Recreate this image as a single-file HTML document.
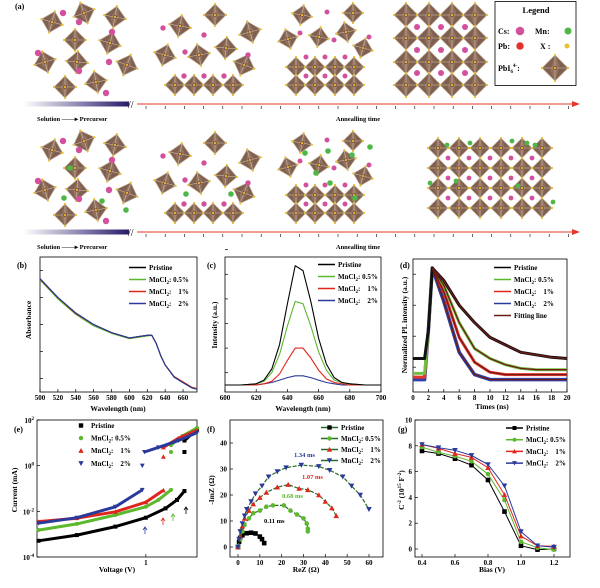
<!DOCTYPE html>
<html><head><meta charset="utf-8"><style>
html,body{margin:0;padding:0;background:#fff;}
svg{display:block;font-family:"Liberation Serif",serif;font-weight:bold;}
</style></head><body>
<svg id="fig" width="600" height="588" viewBox="0 0 600 588" xmlns="http://www.w3.org/2000/svg">
<defs>
<linearGradient id="grad" x1="0" x2="1" y1="0" y2="0"><stop offset="0" stop-color="#fff"/><stop offset="1" stop-color="#2a1a6a"/></linearGradient>
</defs>
</svg>
<script>
// ---------- DATA ----------
// (b) absorbance
const absWl=[500,520,540,560,580,600,610,620,625,630,635,640,650,660,670,676];
const absPristine=[0.84,0.70,0.585,0.50,0.44,0.40,0.41,0.42,0.42,0.36,0.27,0.20,0.11,0.07,0.03,0.02];
const abs05=[0.83,0.69,0.575,0.49,0.435,0.395,0.405,0.415,0.42,0.36,0.27,0.20,0.11,0.07,0.03,0.02];
const abs1=[0.835,0.70,0.58,0.50,0.44,0.40,0.41,0.42,0.42,0.36,0.27,0.20,0.115,0.075,0.035,0.025];
const abs2=[0.84,0.70,0.585,0.50,0.44,0.40,0.41,0.42,0.42,0.36,0.27,0.20,0.11,0.07,0.03,0.02];
// (c) PL
const plWl=[600,610,620,625,630,635,640,645,650,655,660,665,670,675,680,690,700];
const plPristine=[0,0,0.01,0.04,0.13,0.33,0.66,0.97,0.93,0.68,0.38,0.17,0.06,0.02,0.01,0,0];
const pl05=[0,0,0.01,0.03,0.1,0.25,0.48,0.68,0.66,0.48,0.27,0.12,0.04,0.02,0.01,0,0];
const pl1=[0,0,0,0.01,0.03,0.09,0.2,0.3,0.3,0.22,0.12,0.05,0.02,0.01,0,0,0];
const pl2=[0,0,0,0.01,0.02,0.04,0.06,0.075,0.075,0.06,0.04,0.02,0.01,0,0,0,0];
// (d) TRPL
const trT=[0,1.5,2,2.5,4,6,8,10,12,14,16,18,20];
const trPristine=[0.27,0.27,0.5,1,0.90,0.70,0.56,0.44,0.38,0.32,0.30,0.28,0.27];
const tr05=[0.15,0.15,0.5,1,0.86,0.56,0.35,0.27,0.22,0.19,0.18,0.18,0.18];
const tr1=[0.12,0.12,0.5,1,0.81,0.44,0.24,0.16,0.14,0.14,0.14,0.14,0.14];
const tr2=[0.10,0.10,0.5,1,0.73,0.32,0.14,0.10,0.10,0.10,0.10,0.10,0.10];
// (e) I-V (log10 values)
const ivPrV=[0.211,0.368,0.643,1,1.33,1.57,1.75];
const ivPrI=[-3.29,-3.04,-2.67,-2.28,-1.87,-1.50,-1.11];
const ivPrHiV=[1.75,1.75,2.1];
const ivPrHiI=[0.6,1.1,1.6];
const iv05V=[0.211,0.368,0.643,1,1.2,1.44];
const iv05I=[-2.82,-2.55,-2.16,-1.80,-1.5,-1.06];
const iv05HiV=[1.44,1.44,1.7,2.1];
const iv05HiI=[0.6,0.9,1.3,1.65];
const iv1V=[0.211,0.368,0.643,1,1.29];
const iv1I=[-2.45,-2.3,-2.02,-1.6,-1.08];
const iv1HiV=[1.29,1.29,1.6,2.1];
const iv1HiI=[0.39,0.8,1.2,1.55];
const iv2V=[0.211,0.368,0.643,0.95];
const iv2I=[-2.52,-2.28,-1.8,-1.06];
const iv2HiV=[0.95,0.98,1.2,1.6,2.1];
const iv2HiI=[0.0,0.6,0.8,1.1,1.45];
// (f) Nyquist
const nyPrX=[0,0.5,1,2,4,6,8,10,11,12];
const nyPrY=[0,2,3.5,4.5,5.3,5.5,5.2,4,3,1.5];
const ny05X=[0,1,2,3,5,7,10,13,16,21,24,27,30,31.5,32,32];
const ny05Y=[0,3,6,8.5,11,13,14,15.5,16,16,14,12.5,11,9,7,6];
const ny1X=[0,1,2,3,5,7,10,13,18,23,28,32,37,40,43,45];
const ny1Y=[0,4,8,11,14,16.5,19,21,23,24,22.5,22,20,17.5,15,12];
const ny2X=[0,0.5,1,2,3,4,6,8,11,14,18,22,29,37,42,48,52,56,60];
const ny2Y=[0,3,6,9,12,14.5,17.5,20.5,23.5,27,29,30.5,31.5,31,29.5,27,23.5,20,14.5];
// (g) Mott-Schottky
const msBias=[0.4,0.5,0.6,0.7,0.8,0.9,1.0,1.1,1.2];
const msPristine=[7.6,7.4,7.0,6.5,5.35,2.9,0.25,-0.05,0.0];
const ms05=[7.9,7.5,7.2,6.8,5.8,3.8,0.55,0.1,-0.05];
const ms1=[8.1,7.8,7.4,7.1,6.3,4.2,1.0,0.25,0.2];
const ms2=[8.1,7.85,7.65,7.25,6.55,4.9,1.35,0.25,0.15];
// ticks
const bTicks=[500,520,540,560,580,600,620,640,660];
const cTicks=[600,620,640,660,680,700];
const dTicks=[0,2,4,6,8,10,12,14,16,18,20];
const eYTicks=[2,0,-2,-4];
const fXTicks=[0,10,20,30,40,50,60];
const fYTicks=[0,10,20,30,40];
const gXTicks=[0.4,0.6,0.8,1.0,1.2];
const gYTicks=[0,2,4,6,8,10];

// ---------- HELPERS ----------
const NS="http://www.w3.org/2000/svg";
const svg=document.getElementById('fig');
function mk(tag,attrs,parent){const e=document.createElementNS(NS,tag);for(const k in attrs)e.setAttribute(k,attrs[k]);(parent||svg).appendChild(e);return e;}
function txt(x,y,s,size,anchor,parent){const t=mk('text',{x:x,y:y,'font-size':size||7,'text-anchor':anchor||'start',fill:'#000'},parent);t.textContent=s;return t;}
function mncl(x,y,pct,color,parent){const t=mk('text',{x:x,y:y,'font-size':7,fill:'#000'},parent);
 const a=mk('tspan',{},t);a.textContent='MnCl';const b=mk('tspan',{dy:2,'font-size':5},t);b.textContent='2';const c=mk('tspan',{dy:-2},t);c.textContent=': '+pct;return t;}
const COL=['#000','#5cb82c','#e0261c','#2a3a9a'];

function frame(x0,y0,x1,y1,name){const r=mk('rect',{x:x0,y:y0,width:x1-x0,height:y1-y0,fill:'none',stroke:'#000','stroke-width':0.8});
 
 }
function xTicks(ticks,fx,y0,y1,name,fmt){ticks.forEach(v=>{const x=fx(v);
 const l=mk('line',{x1:x,x2:x,y1:y1,y2:y1-3,stroke:'#000','stroke-width':0.7});
 
 
 const t=txt(x,y1+8,fmt?fmt(v):String(v),7,'middle');
 
 });}
function yTicks(ticks,fy,x0,name,fmt){ticks.forEach(v=>{const y=fy(v);
 const l=mk('line',{x1:x0,x2:x0+3,y1:y,y2:y,stroke:'#000','stroke-width':0.7});
 
 
 if(fmt!==null){const t=txt(x0-3,y+2.5,fmt?fmt(v):String(v),7,'end');
 
 }});}
function line(xs,ys,fx,fy,color,w,name){const pts=xs.map((v,i)=>fx(v).toFixed(1)+','+fy(ys[i]).toFixed(1)).join(' ');
 const p=mk('polyline',{points:pts,fill:'none',stroke:color,'stroke-width':w||1,'stroke-linejoin':'round'});
 
 return p;}
function marker(x,y,type,color,s,name){let e;s=s||2.2;
 if(type==='sq')e=mk('rect',{x:x-s,y:y-s,width:2*s,height:2*s,fill:color});
 else if(type==='ci')e=mk('circle',{cx:x,cy:y,r:s,fill:color});
 else if(type==='up')e=mk('polygon',{points:`${x},${y-s*1.2} ${x-s*1.2},${y+s} ${x+s*1.2},${y+s}`,fill:color});
 else e=mk('polygon',{points:`${x},${y+s*1.2} ${x-s*1.2},${y-s} ${x+s*1.2},${y-s}`,fill:color});
 
 return e;}
function vlabel(x,y,s,name){const t=mk('text',{x:x,y:y,'font-size':7.5,'text-anchor':'middle',transform:`rotate(-90 ${x} ${y})`});t.textContent=s;
 
 return t;}
function label(x,y,s,name,size,anchor){const t=txt(x,y,s,size||7.5,anchor||'middle');
 
 return t;}
function legendLine(x,y,color,idx,name,mtype){const l=mk('line',{x1:x,x2:x+17,y1:y-2.5,y2:y-2.5,stroke:color,'stroke-width':1.5});
 
 
 if(mtype)marker(x+8.5,y-2.5,mtype,color,2,name+'-marker');
 const labels=['Pristine','0.5%','  1%','  2%'];
 let t; if(idx===0)t=txt(x+20,y,'Pristine',7); else if(idx===4)t=txt(x+20,y,'Fitting line',7); else t=mncl(x+20,y,['','0.5%','\u00a0\u00a0 1%','\u00a0\u00a0 2%'][idx],color);
 
 }

// ---------- PANEL (a) schematic ----------
function oct(cx,cy,s,rot){const g=mk('g',{transform:`translate(${cx},${cy}) rotate(${rot})`});
 
 
 mk('polygon',{points:`0,${-s} ${s},0 0,${s} ${-s},0`,fill:'#7f6050',stroke:'#c8b49e','stroke-width':0.7},g);
 mk('polygon',{points:`0,${-s} ${s*0.35},${-s*0.2} 0,${s} ${-s*0.35},${s*0.2}`,fill:'#93735f'},g);
 mk('line',{x1:-s,y1:0,x2:s,y2:0,stroke:'#d8c8b0','stroke-width':0.5},g);
 mk('line',{x1:0,y1:-s,x2:0,y2:s,stroke:'#d8c8b0','stroke-width':0.5},g);
 mk('circle',{cx:0,cy:0,r:1.6,fill:'#6b2f1a'},g);
 [[0,-s],[s,0],[0,s],[-s,0],[0,0]].forEach(p=>mk('circle',{cx:p[0],cy:p[1],r:1.1,fill:'#e8c030'},g));}
function dot(x,y,r,color,name){const c=mk('circle',{cx:x,cy:y,r:r,fill:color});
 
 }
const PINK='#d3519c',GREEN='#4db848';
function rowScene(dy,mn){
 [[52,22,15],[84,13,-20],[115,17,10],[75,40,0],[110,43,15],[45,62,-15],[77,62,5],[127,65,20],[65,87,0],[96,82,-10]].forEach(o=>oct(o[0],o[1]+dy,11,o[2]));
 [[63,13],[79,22],[112,32],[38,53],[109,62],[79,71],[106,93]].forEach(p=>dot(p[0],p[1]+dy,3.2,PINK,'cs-ion'));
 [[180,26,10],[215,15,0],[250,32,-15],[165,55,15],[199,55,-10],[226,48,5],[244,65,20]].forEach(o=>oct(o[0],o[1]+dy,11,o[2]));
 [175,194,213,233].forEach(x=>oct(x,85+dy,10,0));
 [[163,28],[204,35],[185,52],[248,55],[184,76],[204,76],[224,76]].forEach(p=>dot(p[0],p[1]+dy,2.7,PINK,'cs-ion'));
 [[302,15,10],[353,13,0],[288,39,-15],[319,37,10],[346,32,-10],[363,48,15]].forEach(o=>oct(o[0],o[1]+dy,10,o[2]));
 [296,315,335,354].forEach(x=>{oct(x,67+dy,10,0);oct(x,85+dy,10,0);});
 [[327,12],[300,33],[334,40],[369,37],[306,57],[325,57],[345,57],[306,76],[325,76],[345,76]].forEach(p=>dot(p[0],p[1]+dy,2.5,PINK,'cs-ion'));
 if(mn){[[70,40],[102,73],[126,82],[64,70],[186,66],[231,66],[305,25],[328,23],[352,27],[316,45],[370,19],[330,55],[355,70]].forEach(p=>dot(p[0],p[1]+dy,2.8,GREEN,'mn-ion'));}
}
rowScene(0,false);
[406,429,452,475].forEach(x=>[15,38,62,85].forEach(y=>oct(x,y,12,0)));
[417,441,465].forEach(x=>[27,50,73].forEach(y=>dot(x,y,3,PINK,'cs-ion')));
rowScene(128,true);
[438,459,480,501,522,542].forEach(x=>[148,168,188,208].forEach(y=>oct(x,y,10,0)));
[448,469,490,511,532].forEach(x=>[158,178,198].forEach(y=>dot(x,y,2.4,PINK,'cs-ion')));
[[430,183],[447,145],[470,143],[512,141],[527,143],[535,145],[553,202],[456,181],[518,186]].forEach(p=>dot(p[0],p[1],2.4,GREEN,'mn-ion'));

function timeline(y,ly,name){
 const r=mk('rect',{x:23,y:y-2.5,width:106,height:5,fill:'url(#grad)'});
 
 
 const br=mk('text',{x:128,y:y+4,'font-size':10,'font-weight':'normal'});br.textContent='//';
 
 
 const l=mk('line',{x1:137,x2:575,y1:y,y2:y,stroke:'#e03a2a','stroke-width':0.9});
 
 
 const h=mk('polygon',{points:`580,${y} 572,${y-3} 572,${y+3}`,fill:'#e03a2a'});
 
 
 for(let x=146;x<570;x+=19.2){const t=mk('line',{x1:x,x2:x,y1:y+2,y2:y+5,stroke:'#000','stroke-width':0.6});
  
  }
 label(37,ly,'Solution \u2014\u2014\u25B8 Precursor',name+'-stage-label',6.5,'start');
 label(358,ly,'Annealling time',name+'-axis-label',6.5,'middle');
}
timeline(104,121,'timeline-pure');
timeline(232,249,'timeline-mn');
label(15,9,'(a)','panel-a-label',8,'start');
// legend box
const lb=mk('rect',{x:495,y:1.5,width:81,height:84,fill:'#fff',stroke:'#000','stroke-width':0.8});


label(536,13,'Legend','legend-title',8.5);
label(498,34,'Cs:','legend-cs-label',8,'start');dot(520,31,4.3,PINK,'legend-cs-dot');
label(535,34,'Mn:','legend-mn-label',8,'start');dot(568,31,3.5,GREEN,'legend-mn-dot');
label(498,49,'Pb:','legend-pb-label',8,'start');dot(520,46,3.7,'#e3312a','legend-pb-dot');
label(540,49,'X :','legend-x-label',8,'start');dot(567,46,2.5,'#e8c030','legend-x-dot');
const pt=mk('text',{x:498,y:71,'font-size':8});pt.textContent='PbI';const s6=mk('tspan',{dy:2,'font-size':5},pt);s6.textContent='6';const s4=mk('tspan',{dy:-6,'font-size':5},pt);s4.textContent='4-';const sc=mk('tspan',{dy:4},pt);sc.textContent=':';


oct(555,68,13,0);

// ---------- PANEL (b) ----------
{const fx=w=>40+(w-500)*0.894, fy=a=>392-a*135;
 frame(40,257,197,392,'panel-b-plot-area');
 xTicks(bTicks,fx,257,392,'panel-b-x');
 yTicks([0.1,0.3,0.5,0.7,0.9],fy,40,'panel-b-y',null);
 line(absWl,abs05,fx,fy,COL[1],1.1,'panel-b-series-mncl2-0.5');
 line(absWl,abs1,fx,fy,COL[2],1.1,'panel-b-series-mncl2-1');
 line(absWl,absPristine,fx,fy,COL[0],1,'panel-b-series-pristine');
 line(absWl,abs2,fx,fy,COL[3],1.1,'panel-b-series-mncl2-2');
 label(17,268,'(b)','panel-b-label',8,'start');
 vlabel(31,320,'Absorbance','panel-b-y-axis-title');
 label(118,411,'Wavelength (nm)','panel-b-x-axis-title');
 [0,1,2,3].forEach(i=>legendLine(129,270+i*12,COL[i],i,'panel-b-legend-'+i));}

// ---------- PANEL (c) ----------
{const fx=w=>225+(w-600)*1.56, fy=v=>385-v*123;
 frame(225,257,381,392,'panel-c-plot-area');
 xTicks(cTicks,fx,257,392,'panel-c-x');
 yTicks([0.1,0.3,0.5,0.7,0.9,1.1],v=>385-v*123,225,'panel-c-y',null);
 line(plWl,pl2,fx,fy,COL[3],1.1,'panel-c-series-mncl2-2');
 line(plWl,pl1,fx,fy,COL[2],1.1,'panel-c-series-mncl2-1');
 line(plWl,pl05,fx,fy,COL[1],1.1,'panel-c-series-mncl2-0.5');
 line(plWl,plPristine,fx,fy,COL[0],1.1,'panel-c-series-pristine');
 label(207,268,'(c)','panel-c-label',8,'start');
 vlabel(217,325,'Intensity (a.u.)','panel-c-y-axis-title');
 label(303,411,'Wavelength (nm)','panel-c-x-axis-title');
 [0,1,2,3].forEach(i=>legendLine(318,267+i*12,COL[i],i,'panel-c-legend-'+i));}

// ---------- PANEL (d) ----------
{const fx=t=>413+t*7.7, fy=v=>392-v*124;
 frame(413,259,567,392,'panel-d-plot-area');
 xTicks(dTicks,fx,259,392,'panel-d-x');
 yTicks([0.2,0.45,0.7,0.95],fy,413,'panel-d-y',null);
 line(trT,tr2,fx,fy,'#3040a8',3.5,'panel-d-series-mncl2-2');
 line(trT,tr1,fx,fy,'#e8342a',3,'panel-d-series-mncl2-1');
 line(trT,tr05,fx,fy,'#70c040',3,'panel-d-series-mncl2-0.5');
 line(trT,trPristine,fx,fy,'#111',3,'panel-d-series-pristine');
 [trPristine,tr05,tr1,tr2].forEach((s,i)=>line(trT.slice(3),s.slice(3),fx,fy,'#6e1a14',1.3,'panel-d-fit-'+i));
 label(400,268,'(d)','panel-d-label',8,'start');
 vlabel(407,325,'Normalized PL intensity (a.u.)','panel-d-y-axis-title');
 label(492,409,'Times (ns)','panel-d-x-axis-title');
 [0,1,2,3].forEach(i=>legendLine(494,270+i*12,COL[i],i,'panel-d-legend-'+i));
 legendLine(494,318,'#6e1a14',4,'panel-d-legend-fit');}

// ---------- PANEL (e) ----------
{const fx=v=>37+(Math.log10(v)+0.685)/1.007*160, fy=l=>420+(2-l)/6*137, fl=l=>fy(l);
 frame(37,420,197,557,'panel-e-plot-area');
 eYTicks.forEach(v=>{const y=fy(v);
  const l=mk('line',{x1:37,x2:40,y1:y,y2:y,stroke:'#000','stroke-width':0.7});
  
  
  const t=mk('text',{x:34,y:y+3,'font-size':7,'text-anchor':'end'});t.textContent='10';
  const sp=mk('tspan',{dy:-3,'font-size':5},t);sp.textContent=String(v);
  
  });
 xTicks([1],fx,420,557,'panel-e-x');
 const sets=[[ivPrV,ivPrI,ivPrHiV,ivPrHiI,'sq','pristine'],[iv05V,iv05I,iv05HiV,iv05HiI,'ci','mncl2-0.5'],[iv1V,iv1I,iv1HiV,iv1HiI,'up','mncl2-1'],[iv2V,iv2I,iv2HiV,iv2HiI,'dn','mncl2-2']];
 sets.forEach((s,i)=>{
  line(s[0],s[1],fx,fl,COL[i],3,'panel-e-series-'+s[5]+'-low');
  s[0].forEach((v,j)=>marker(fx(v),fl(s[1][j]),s[4],COL[i],2,'panel-e-point-'+s[5]));
  line(s[2].slice(1),s[3].slice(1),fx,fl,COL[i],3,'panel-e-series-'+s[5]+'-high');
  s[2].forEach((v,j)=>marker(fx(v),fl(s[3][j]),s[4],COL[i],2,'panel-e-point-'+s[5]));});
 [[145,527,COL[3]],[163,518,COL[2]],[173,514,COL[1]],[186,507,COL[0]]].forEach((a,i)=>{
  const ar=mk('path',{d:`M${a[0]},${a[1]+7} V${a[1]} M${a[0]-2},${a[1]+3} L${a[0]},${a[1]} L${a[0]+2},${a[1]+3}`,stroke:a[2],fill:'none','stroke-width':0.8});
  
  });
 label(14,432,'(e)','panel-e-label',8,'start');
 vlabel(17,490,'Current (mA)','panel-e-y-axis-title');
 label(117,572,'Voltage (V)','panel-e-x-axis-title');
 ['sq','ci','up','dn'].forEach((m,i)=>{marker(81,425.5+i*12.6,m,COL[i],2.2,'panel-e-legend-marker-'+i);
  const t=i===0?txt(91,428+i*12.6,'Pristine',7):mncl(91,428+i*12.6,['','0.5%','\u00a0\u00a0 1%','\u00a0\u00a0 2%'][i]);
  
  });}

// ---------- PANEL (f) ----------
{const fx=v=>238+v*2.183, fy=v=>547-v*2.6;
 frame(230,420,383,557,'panel-f-plot-area');
 xTicks(fXTicks,fx,420,557,'panel-f-x');
 yTicks(fYTicks,fy,230,'panel-f-y');
 const sets=[[nyPrX,nyPrY,'sq','pristine'],[ny05X,ny05Y,'ci','mncl2-0.5'],[ny1X,ny1Y,'up','mncl2-1'],[ny2X,ny2Y,'dn','mncl2-2']];
 sets.forEach((s,i)=>{line(s[0],s[1],fx,fy,'#2a6a2a',1.2,'panel-f-fit-'+s[3]).setAttribute('stroke-dasharray','4 1.5');
  s[0].forEach((v,j)=>marker(fx(v),fy(s[1][j]),s[2],COL[i],2.3,'panel-f-point-'+s[3]));});
 [[294,457,'1.34 ms',COL[3]],[302,479,'1.07 ms',COL[2]],[282,498,'0.68 ms',COL[1]],[264,523,'0.11 ms',COL[0]]].forEach(a=>{
  const t=txt(a[0],a[1],a[2],6.5,'start');t.setAttribute('fill',a[3]);
  
  });
 label(207,432,'(f)','panel-f-label',8,'start');
 vlabel(214,490,'-ImZ (\u03A9)','panel-f-y-axis-title');
 label(306,572,'ReZ (\u03A9)','panel-f-x-axis-title');
 ['sq','ci','up','dn'].forEach((m,i)=>legendLine(321,430+i*11,'#2a6a2a',i,'panel-f-legend-'+i,null));
 ['sq','ci','up','dn'].forEach((m,i)=>marker(329.5,427.5+i*11,m,COL[i],2.2,'panel-f-legend-marker-'+i));}

// ---------- PANEL (g) ----------
{const fx=v=>422+(v-0.4)*165, fy=v=>549-v*12.9;
 frame(415,420,570,557,'panel-g-plot-area');
 xTicks(gXTicks,fx,420,557,'panel-g-x',v=>v.toFixed(1));
 yTicks(gYTicks,fy,415,'panel-g-y');
 const sets=[[msPristine,'sq','pristine'],[ms05,'ci','mncl2-0.5'],[ms1,'up','mncl2-1'],[ms2,'dn','mncl2-2']];
 sets.forEach((s,i)=>{line(msBias,s[0],fx,fy,COL[i],1,'panel-g-series-'+s[2]);
  msBias.forEach((v,j)=>marker(fx(v),fy(s[0][j]),s[1],COL[i],2.3,'panel-g-point-'+s[2]));});
 label(398,432,'(g)','panel-g-label',8,'start');
 const yl=mk('text',{x:404,y:490,'font-size':7.5,'text-anchor':'middle',transform:'rotate(-90 404 490)'});
 yl.textContent='C';const a1=mk('tspan',{dy:-3,'font-size':5},yl);a1.textContent='-2';const a2=mk('tspan',{dy:3},yl);a2.textContent=' (10';
 const a3=mk('tspan',{dy:-3,'font-size':5},yl);a3.textContent='15';const a4=mk('tspan',{dy:3},yl);a4.textContent=' F';
 const a5=mk('tspan',{dy:-3,'font-size':5},yl);a5.textContent='-2';const a6=mk('tspan',{dy:3},yl);a6.textContent=')';
 
 
 label(492,572,'Bias (V)','panel-g-x-axis-title');
 ['sq','ci','up','dn'].forEach((m,i)=>legendLine(506,430.5+i*11.7,COL[i],i,'panel-g-legend-'+i,m));}
</script>
</body></html>
